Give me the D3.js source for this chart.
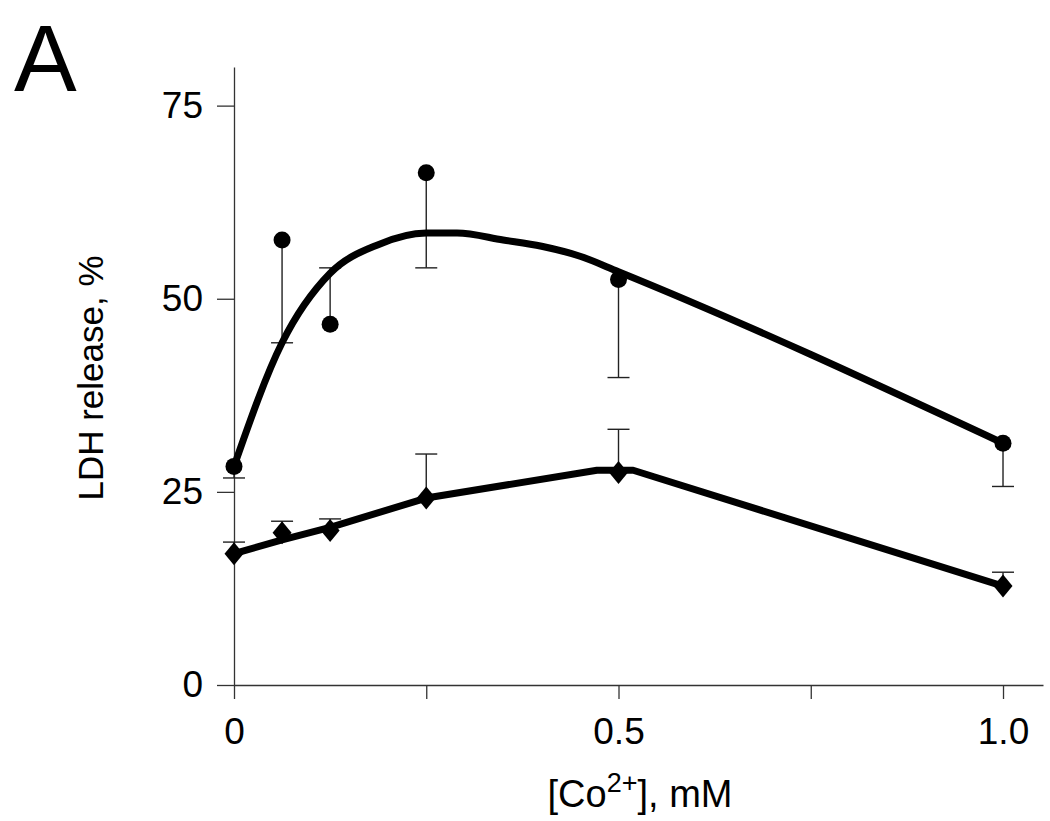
<!DOCTYPE html>
<html>
<head>
    <meta charset="utf-8" />
    <title>LDH release vs Co2+</title>
    <style>
        body { margin: 0; background: #fff; overflow: hidden; }
        text { font-family: "Liberation Sans", Arial, sans-serif; fill: #000; }
    </style>
</head>
<body>
    <div id="chart"></div>
    <script src="https://d3js.org/d3.v7.min.js"></script>
    <script>
        var conc = [0, 0.0625, 0.125, 0.25, 0.5, 1.0];
        var circleMean = [28.3, 57.6, 46.7, 66.3, 52.5, 31.3];
        var circleErrEnd = [26.8, 44.3, 54.0, 54.0, 39.8, 25.7];
        var diamondMean = [17.0, 19.7, 20.0, 24.2, 27.5, 12.8];
        var diamondErrEnd = [18.5, 21.2, 21.5, 29.9, 33.1, 14.6];

        // drawn fit lines
        var circleFitX = [0, 0.0625, 0.125, 0.1875, 0.25, 0.29, 0.35, 0.4, 0.45, 0.5, 1.0];
        var circleFitY = [28.3, 44.3, 53.3, 57.0, 58.5, 58.5, 57.6, 56.8, 55.5, 53.5, 31.3];
        var diamondFitX = [0, 0.0625, 0.125, 0.25, 0.472, 0.519, 1.0];
        var diamondFitY = [17.0, 18.8, 20.4, 24.2, 27.8, 27.8, 12.8];

        var xTicks = [0, 0.25, 0.5, 0.75, 1.0];
        var xTickLabels = {0: "0", 0.5: "0.5", 1: "1.0"};
        var yTicks = [0, 25, 50, 75];

        var width = 1050, height = 821;

        var svg = d3.select("#chart").append("svg")
            .attr("width", width)
            .attr("height", height);

        var x = d3.scaleLinear().domain([0, 1.052]).range([234, 1043]);
        var y = d3.scaleLinear().domain([0, 80]).range([685, 67]);

        // axes
        var xAxis = svg.append("g")
            .attr("transform", "translate(0," + y(0) + ")")
            .call(d3.axisBottom(x)
                .tickValues(xTicks)
                .tickSize(14)
                .tickSizeOuter(0)
                .tickPadding(19)
                .tickFormat(d => xTickLabels[d] || ""));

        var yAxis = svg.append("g")
            .attr("transform", "translate(" + x(0) + ",0)")
            .call(d3.axisLeft(y)
                .tickValues(yTicks)
                .tickSize(17)
                .tickSizeOuter(0)
                .tickPadding(14));

        [xAxis, yAxis].forEach(function (g) {
            g.select(".domain").attr("stroke", "#333").attr("stroke-width", 1.3);
            g.selectAll(".tick line").attr("stroke", "#333").attr("stroke-width", 1.3);
            g.selectAll(".tick text")
                .style("font-family", "'Liberation Sans', Arial, sans-serif")
                .style("font-size", "37px")
                .attr("fill", "#000");
        });

        // axis titles
        svg.append("text")
            .attr("transform", "translate(103,378) rotate(-90)")
            .attr("text-anchor", "middle")
            .style("font-size", "35px")
            .text("LDH release, %");

        var xt = svg.append("text")
            .attr("x", 640)
            .attr("y", 807)
            .attr("text-anchor", "middle")
            .style("font-size", "38px");
        xt.append("tspan").text("[Co");
        xt.append("tspan").attr("dy", -15).style("font-size", "27px").text("2+");
        xt.append("tspan").attr("dy", 15).text("], mM");

        // panel letter
        svg.append("text")
            .attr("x", 14)
            .attr("y", 91)
            .style("font-size", "94px")
            .text("A");

        var plot = svg.append("g");

        // error bars
        function errorBars(means, ends) {
            var d = conc.map((c, i) => ({x: c, m: means[i], e: ends[i]}));
            plot.selectAll(null).data(d).join("line")
                .attr("x1", d => x(d.x)).attr("x2", d => x(d.x))
                .attr("y1", d => y(d.m)).attr("y2", d => y(d.e))
                .attr("stroke", "#222").attr("stroke-width", 1.4);
            plot.selectAll(null).data(d).join("line")
                .attr("x1", d => x(d.x) - 11).attr("x2", d => x(d.x) + 11)
                .attr("y1", d => y(d.e)).attr("y2", d => y(d.e))
                .attr("stroke", "#222").attr("stroke-width", 1.4);
        }
        errorBars(circleMean, circleErrEnd);
        errorBars(diamondMean, diamondErrEnd);

        // fit lines
        var circleFit = circleFitX.map((v, i) => [v, circleFitY[i]]);
        var diamondFit = diamondFitX.map((v, i) => [v, diamondFitY[i]]);

        plot.append("path")
            .datum(circleFit)
            .attr("fill", "none")
            .attr("stroke", "#000")
            .attr("stroke-width", 7)
            .attr("stroke-linejoin", "round")
            .attr("d", d3.line().x(d => x(d[0])).y(d => y(d[1])).curve(d3.curveMonotoneX));

        plot.append("path")
            .datum(diamondFit)
            .attr("fill", "none")
            .attr("stroke", "#000")
            .attr("stroke-width", 7)
            .attr("stroke-linejoin", "round")
            .attr("d", d3.line().x(d => x(d[0])).y(d => y(d[1])));

        // markers
        plot.selectAll(".dot").data(conc.map((c, i) => [c, circleMean[i]])).join("circle")
            .attr("class", "dot")
            .attr("cx", d => x(d[0]))
            .attr("cy", d => y(d[1]))
            .attr("r", 8.5)
            .attr("fill", "#000");

        plot.selectAll(".dia").data(conc.map((c, i) => [c, diamondMean[i]])).join("path")
            .attr("class", "dia")
            .attr("transform", d => "translate(" + x(d[0]) + "," + y(d[1]) + ")")
            .attr("d", "M0,-11.5L9.5,0L0,11.5L-9.5,0Z")
            .attr("fill", "#000");
    </script>
</body>
</html>
